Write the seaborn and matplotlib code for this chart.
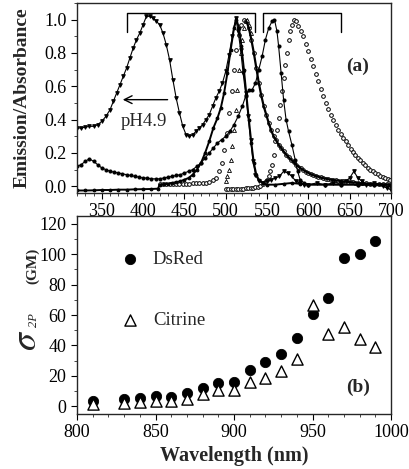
import numpy as np
import pandas as pd
import seaborn as sns
from matplotlib import pyplot as plt
from matplotlib.ticker import MultipleLocator

# ---- panel (a): normalised spectra ----
wl_ph49 = [320, 325, 330, 335, 340, 345, 350, 355, 360, 364, 368, 372, 376, 380, 384, 388, 392, 396, 400,
           404, 408, 412, 416, 420, 424, 428, 432, 436, 440, 444, 448, 452, 456, 460, 464, 468, 472, 476,
           480, 484, 488, 492, 496, 500, 504, 508, 512, 515, 518, 521, 524, 527, 530, 533, 536, 540, 545,
           550, 555, 560, 565, 570, 575, 580, 585, 590, 595, 600, 610, 620, 630, 640, 645, 650, 655, 660,
           665, 670, 680, 690, 695, 700]
abs_ph49 = [0.35, 0.35, 0.355, 0.36, 0.36, 0.37, 0.39, 0.42, 0.46, 0.51, 0.56, 0.61, 0.66, 0.71, 0.77, 0.83,
            0.88, 0.92, 0.97, 1.02, 1.02, 1.01, 0.99, 0.97, 0.92, 0.85, 0.76, 0.64, 0.53, 0.44, 0.36, 0.31,
            0.30, 0.31, 0.33, 0.35, 0.37, 0.40, 0.43, 0.48, 0.53, 0.57, 0.62, 0.69, 0.79, 0.90, 1.01, 0.93,
            0.82, 0.68, 0.56, 0.42, 0.28, 0.15, 0.07, 0.03, 0.02, 0.03, 0.04, 0.05, 0.06, 0.09, 0.08, 0.06,
            0.03, 0.02, 0.01, 0.01, 0.02, 0.01, 0.02, 0.02, 0.03, 0.05, 0.09, 0.05, 0.03, 0.01, 0.02, 0.0,
            -0.01, -0.02]

wl_cit_abs = [320, 330, 340, 350, 360, 370, 380, 390, 400, 410, 418, 420, 425, 430, 435, 440, 445, 450, 455,
              460, 465, 470, 475, 480, 485, 490, 494, 498, 502, 506, 510, 513, 516, 519, 522, 525, 528, 531,
              534, 537, 540, 545, 550, 560, 570, 580, 590, 600, 620, 640, 660, 680, 700]
cit_abs = [-0.025, -0.025, -0.024, -0.022, -0.022, -0.02, -0.02, -0.018, -0.017, -0.016, -0.014, 0.01, 0.012,
           0.015, 0.02, 0.025, 0.03, 0.04, 0.05, 0.07, 0.1, 0.14, 0.2, 0.27, 0.35, 0.41, 0.47, 0.56, 0.68,
           0.82, 0.95, 1.0, 0.95, 0.84, 0.70, 0.55, 0.40, 0.26, 0.14, 0.07, 0.04, 0.02, 0.01, 0.01, 0.015,
           0.02, 0.015, 0.01, 0.01, 0.01, 0.01, 0.01, 0.01]

wl_ds_abs = [320, 325, 330, 335, 340, 345, 350, 355, 360, 365, 370, 375, 380, 385, 390, 395, 400, 405, 410,
             415, 420, 425, 430, 435, 440, 445, 450, 455, 460, 465, 470, 475, 480, 485, 490, 495, 500, 505,
             510, 515, 520, 524, 528, 532, 536, 540, 544, 548, 552, 556, 559, 562, 564, 567, 570, 573, 576,
             580, 584, 587, 590, 595, 600, 620, 640, 660, 680, 700]
ds_abs = [0.12, 0.13, 0.15, 0.165, 0.15, 0.13, 0.11, 0.10, 0.09, 0.085, 0.08, 0.075, 0.07, 0.065, 0.06, 0.055,
          0.05, 0.05, 0.045, 0.045, 0.045, 0.05, 0.055, 0.06, 0.065, 0.07, 0.08, 0.09, 0.10, 0.12, 0.14, 0.17,
          0.20, 0.23, 0.26, 0.28, 0.30, 0.33, 0.37, 0.42, 0.48, 0.54, 0.58, 0.58, 0.62, 0.70, 0.78, 0.88,
          0.95, 0.99, 1.0, 0.93, 0.84, 0.68, 0.52, 0.40, 0.33, 0.25, 0.16, 0.09, 0.04, 0.02, 0.01, 0.01,
          0.01, 0.01, 0.005, 0.0]

wl_cit_em = [420, 424, 428, 432, 436, 440, 444, 448, 452, 456, 460, 464, 468, 472, 476, 480, 484, 488, 492,
             495, 498, 501, 504, 507, 510, 513, 516, 519, 522, 525, 528, 531, 534, 537, 540, 543, 546, 549,
             552, 555, 558, 561, 564, 567, 570, 573, 576, 579, 582, 585, 588, 591, 594, 597, 600, 603, 606,
             609, 612, 615, 618, 621, 624, 627, 630, 633, 636, 639, 642, 645, 648, 651, 654, 657, 660, 665,
             670, 675, 680, 685, 690, 695, 700]
cit_em = [0.012, 0.012, 0.012, 0.012, 0.013, 0.013, 0.014, 0.015, 0.015, 0.016, 0.017, 0.018, 0.019, 0.02,
          0.022, 0.025, 0.035, 0.05, 0.09, 0.14, 0.22, 0.32, 0.44, 0.57, 0.70, 0.82, 0.91, 0.97, 1.0, 0.99,
          0.95, 0.88, 0.80, 0.71, 0.62, 0.545, 0.48, 0.43, 0.38, 0.335, 0.30, 0.275, 0.25, 0.23, 0.21, 0.19,
          0.175, 0.16, 0.145, 0.13, 0.118, 0.107, 0.097, 0.088, 0.08, 0.073, 0.067, 0.062, 0.057, 0.053,
          0.049, 0.046, 0.043, 0.04, 0.038, 0.036, 0.034, 0.032, 0.03, 0.028, 0.026, 0.025, 0.023, 0.022,
          0.02, 0.018, 0.017, 0.016, 0.015, 0.013, 0.012, 0.011, 0.01]

wl_cit_em2 = [500, 502, 504, 506, 508, 510, 512, 514, 516, 518, 520, 522, 524, 526, 528, 530]
cit_em2 = [0.03, 0.06, 0.10, 0.16, 0.24, 0.34, 0.46, 0.58, 0.70, 0.80, 0.88, 0.95, 0.99, 1.0, 0.97, 0.92]

wl_ds_em = [500, 503, 506, 509, 512, 515, 518, 521, 524, 527, 530, 533, 536, 539, 542, 545, 548, 550, 552,
            554, 556, 558, 560, 562, 564, 566, 568, 570, 572, 574, 576, 578, 580, 582, 585, 588, 591, 594,
            597, 600, 603, 606, 609, 612, 615, 618, 621, 624, 627, 630, 633, 636, 639, 642, 645, 648, 651,
            654, 657, 660, 663, 666, 669, 672, 675, 678, 681, 684, 687, 690, 693, 696, 699]
ds_em = [-0.015, -0.015, -0.015, -0.015, -0.015, -0.015, -0.014, -0.014, -0.013, -0.012, -0.01, -0.008,
         -0.005, -0.002, 0.004, 0.012, 0.025, 0.04, 0.06, 0.09, 0.13, 0.19, 0.27, 0.34, 0.41, 0.49, 0.57,
         0.65, 0.73, 0.80, 0.88, 0.93, 0.97, 1.0, 0.99, 0.96, 0.93, 0.90, 0.855, 0.81, 0.765, 0.72, 0.675,
         0.63, 0.585, 0.54, 0.50, 0.465, 0.43, 0.40, 0.37, 0.34, 0.315, 0.29, 0.27, 0.245, 0.225, 0.205,
         0.185, 0.17, 0.155, 0.14, 0.125, 0.112, 0.10, 0.09, 0.08, 0.072, 0.064, 0.056, 0.05, 0.044, 0.038]

brackets = [(380, 535), (545, 640)]

# ---- panel (b): two-photon cross sections ----
wl_2p = [810, 830, 840, 850, 860, 870, 880, 890, 900, 910, 920, 930, 940, 950, 960, 970, 980, 990]
dsred_2p = [3.5, 4.6, 5.7, 7.0, 6.3, 8.5, 12.2, 15.3, 16.3, 24, 29, 34.4, 44.7, 60.8, 71.4, 97.2, 100, 108.5]
citrine_2p = [1.3, 2.4, 2.8, 3.8, 3.8, 5.0, 7.8, 10.5, 11.0, 15.9, 18.7, 23.0, 31.4, 66.7, 47.7, 51.8, 44.2, 38.8]

sns.set_style("ticks")
plt.rcParams['font.family'] = ['Liberation Serif', 'DejaVu Serif']
plt.rcParams['mathtext.fontset'] = 'stix'
plt.rcParams['xtick.direction'] = 'out'
plt.rcParams['ytick.direction'] = 'out'

fig = plt.figure(figsize=(4.10, 4.69), dpi=100)
ax1 = fig.add_axes([0.1878, 0.5885, 0.7659, 0.4051])
ax2 = fig.add_axes([0.1878, 0.1173, 0.7659, 0.4221])

k = 'black'
em = pd.DataFrame({'wl': wl_cit_em, 'v': cit_em})
tail = em[em.wl >= 524]

sns.lineplot(x=wl_ph49, y=abs_ph49, ax=ax1, color=k, lw=0.8, marker='v', ms=2.6, mec=k, mfc=k)
sns.lineplot(x=wl_cit_abs, y=cit_abs, ax=ax1, color=k, lw=1.4, marker='o', ms=2, mec=k, mfc=k)
sns.lineplot(x=wl_ds_abs, y=ds_abs, ax=ax1, color=k, lw=0.8, marker='o', ms=2.2, mec=k, mfc=k)
sns.lineplot(data=tail, x='wl', y='v', ax=ax1, color=k, lw=1.6)
sns.scatterplot(data=em, x='wl', y='v', ax=ax1, marker='o', s=7, facecolor='white', edgecolor=k, linewidth=0.7)
sns.scatterplot(x=wl_cit_em2, y=cit_em2, ax=ax1, marker='^', s=8, facecolor='white', edgecolor=k, linewidth=0.6)
sns.scatterplot(x=wl_ds_em, y=ds_em, ax=ax1, marker='o', s=7, facecolor='white', edgecolor=k, linewidth=0.7)

for lo, hi in brackets:
    ax1.plot([lo, lo, hi, hi], [0.925, 1.04, 1.04, 0.925], color=k, lw=1)

ax1.annotate('', xy=(372, 0.52), xytext=(433, 0.52),
             arrowprops=dict(arrowstyle='->', color=k, lw=1, mutation_scale=14))
ax1.text(401, 0.39, 'pH4.9', fontsize=13.5, ha='center', va='center')
ax1.text(660, 0.72, '(a)', fontsize=14, fontweight='bold', ha='center', va='center')

ax1.set_xlim(320, 700)
ax1.set_ylim(-0.04, 1.1)
ax1.set_xticks(range(350, 701, 50))
ax1.set_yticks([0, 0.2, 0.4, 0.6, 0.8, 1.0])
ax1.set_yticklabels(['0.0', '0.2', '0.4', '0.6', '0.8', '1.0'])
ax1.xaxis.set_minor_locator(MultipleLocator(10))
ax1.yaxis.set_minor_locator(MultipleLocator(0.1))
ax1.set_xlabel('')
ax1.set_ylabel('Emission/Absorbance', fontsize=14, fontweight='bold', labelpad=10)

sns.scatterplot(x=wl_2p, y=dsred_2p, ax=ax2, marker='o', s=55, color=k, edgecolor=k, label='DsRed')
sns.scatterplot(x=wl_2p, y=citrine_2p, ax=ax2, marker='^', s=65, facecolor='white', edgecolor=k,
                linewidth=1, label='Citrine')
ax2.legend(loc='upper left', bbox_to_anchor=(0.11, 0.86), frameon=False, fontsize=13.5,
           labelspacing=2.3, handletextpad=0.6, handlelength=1.2, borderaxespad=0)
ax2.text(979, 12.4, '(b)', fontsize=14, fontweight='bold', ha='center', va='center')

ax2.set_xlim(800, 1000)
ax2.set_ylim(-5, 125)
ax2.set_xticks(range(800, 1001, 50))
ax2.set_yticks(range(0, 121, 20))
ax2.xaxis.set_minor_locator(MultipleLocator(10))
ax2.yaxis.set_minor_locator(MultipleLocator(10))
ax2.set_xlabel('Wavelength (nm)', fontsize=14.5, fontweight='bold', labelpad=3)
ax2.set_ylabel('')

fig.text(0.066, 0.275, r'$\sigma$', fontsize=26, rotation=90, ha='center', va='center')
fig.text(0.082, 0.318, '2P', fontsize=9, style='italic', rotation=90, ha='center', va='center')
fig.text(0.080, 0.433, '(GM)', fontsize=11, fontweight='bold', rotation=90, ha='center', va='center')

for ax in (ax1, ax2):
    for sp in ax.spines.values():
        sp.set_linewidth(1)
        sp.set_visible(True)
    ax.tick_params(which='major', length=4, width=0.8, labelsize=13, colors=k)
    ax.tick_params(which='minor', length=2, width=0.6)

fig.savefig('out.png', dpi=100)
